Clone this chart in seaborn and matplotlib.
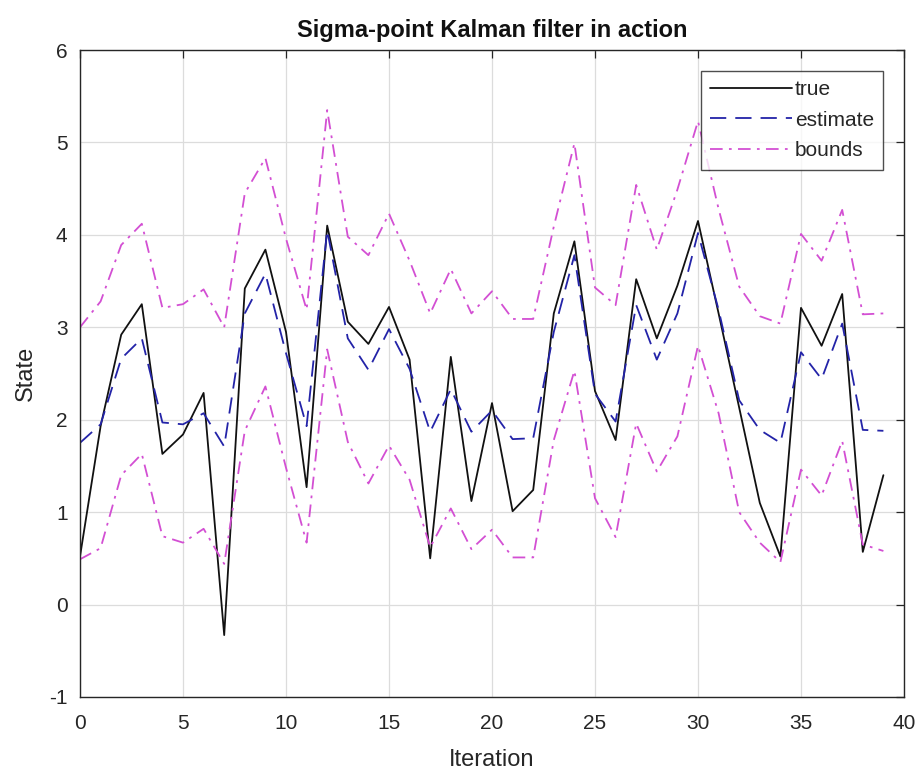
import matplotlib
matplotlib.use("Agg")
import matplotlib.pyplot as plt
import seaborn as sns
import numpy as np

iterations = list(range(40))
true_vals = [0.52, 1.93, 2.92, 3.25, 1.63, 1.84, 2.29, -0.33, 3.42, 3.84,
             2.95, 1.27, 4.10, 3.06, 2.82, 3.22, 2.65, 0.50, 2.68, 1.12,
             2.18, 1.01, 1.24, 3.15, 3.93, 2.31, 1.78, 3.52, 2.88, 3.45,
             4.15, 3.15, 2.13, 1.10, 0.52, 3.21, 2.80, 3.36, 0.57, 1.40]
estimate = [1.75, 1.95, 2.66, 2.88, 1.97, 1.95, 2.07, 1.71, 3.15, 3.58,
            2.72, 1.93, 4.05, 2.88, 2.54, 2.98, 2.55, 1.87, 2.33, 1.87,
            2.10, 1.79, 1.80, 2.95, 3.78, 2.28, 1.98, 3.24, 2.65, 3.15,
            4.02, 3.19, 2.21, 1.89, 1.75, 2.73, 2.44, 3.04, 1.89, 1.88]
upper = [3.00, 3.28, 3.89, 4.12, 3.21, 3.25, 3.41, 3.00, 4.45, 4.83,
         3.96, 3.19, 5.35, 3.98, 3.78, 4.23, 3.72, 3.15, 3.63, 3.15,
         3.39, 3.09, 3.09, 4.09, 4.99, 3.43, 3.24, 4.54, 3.84, 4.49,
         5.23, 4.28, 3.44, 3.12, 3.04, 4.01, 3.72, 4.27, 3.14, 3.15]
lower = [0.49, 0.61, 1.40, 1.63, 0.74, 0.67, 0.82, 0.44, 1.88, 2.36,
         1.48, 0.67, 2.76, 1.76, 1.31, 1.72, 1.35, 0.62, 1.04, 0.60,
         0.81, 0.51, 0.51, 1.78, 2.53, 1.15, 0.73, 1.96, 1.44, 1.82,
         2.80, 2.07, 1.00, 0.67, 0.46, 1.46, 1.18, 1.77, 0.65, 0.58]
x_ticks = [0, 5, 10, 15, 20, 25, 30, 35, 40]
y_ticks = [-1, 0, 1, 2, 3, 4, 5, 6]

sns.set_style("white")
plt.rcParams['font.family'] = ['Liberation Sans', 'DejaVu Sans']

fig = plt.figure(figsize=(9.21, 7.76), dpi=100)
ax = fig.add_axes([80 / 921, 1 - 697 / 776, 824 / 921, 647 / 776])

c_true = "#111111"
c_est = "#2323a8"
c_bnd = "#d34fd3"

sns.lineplot(x=iterations, y=true_vals, ax=ax, color=c_true, lw=1.3, label="true")
sns.lineplot(x=iterations, y=estimate, ax=ax, color=c_est, lw=1.3, label="estimate")
sns.lineplot(x=iterations, y=upper, ax=ax, color=c_bnd, lw=1.3, label="bounds")
sns.lineplot(x=iterations, y=lower, ax=ax, color=c_bnd, lw=1.3, label="_nolegend_")

lines = ax.get_lines()
lines[1].set_dashes([9, 5])
lines[2].set_dashes([7, 3.5, 1.5, 3.5])
lines[3].set_dashes([7, 3.5, 1.5, 3.5])

ax.set_xlim(0, 40)
ax.set_ylim(-1, 6)
ax.set_xticks(x_ticks)
ax.set_yticks(y_ticks)
ax.set_xticklabels([str(t) for t in x_ticks])
ax.set_yticklabels([str(t) for t in y_ticks])
ax.grid(True, color="#dcdcdc", lw=0.9)
ax.set_axisbelow(True)
for s in ax.spines.values():
    s.set_visible(True)
    s.set_color("#262626")
    s.set_linewidth(1.0)
ax.tick_params(direction="in", length=6, width=0.9, top=True, right=True,
               labelsize=15, colors="#262626")
ax.tick_params(axis="x", pad=12)
ax.tick_params(axis="y", pad=9)

ax.set_title("Sigma-point Kalman filter in action", fontsize=17, fontweight="bold",
             color="#111111", pad=9)
ax.set_xlabel("Iteration", fontsize=17, color="#262626", labelpad=12)
ax.set_ylabel("State", fontsize=17, color="#262626", labelpad=9)

leg = ax.legend(loc="upper right", fontsize=15, frameon=True, fancybox=False,
                handlelength=3.9, handletextpad=0.15, borderpad=0.45,
                labelspacing=0.55, borderaxespad=1.0, edgecolor="#222222")
leg.get_frame().set_linewidth(1.0)

fig.savefig("out.png", dpi=100)
